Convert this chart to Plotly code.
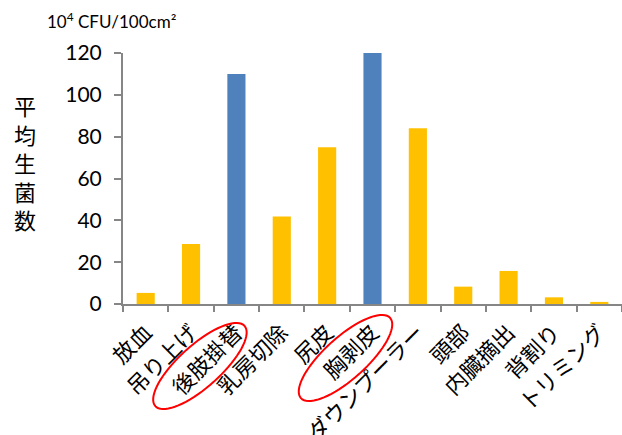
import numpy as np
import plotly.graph_objects as go

# Processing steps along the carcass line
categories = ["放血", "吊り上げ", "後肢掛替", "乳房切除", "尻皮", "胸剥皮",
              "ダウンプーラー", "頭部", "内臓摘出", "背割り", "トリミング"]
# Mean viable count (10^4 CFU/100cm²)
counts = [5.3, 28.7, 110, 41.8, 75, 120, 84, 8.3, 15.8, 3.2, 1.0]
# Steps highlighted in blue and circled
highlighted = ["後肢掛替", "胸剥皮"]

y_ticks = [0, 20, 40, 60, 80, 100, 120]
y_title = "平均生菌数"
unit_label = "10<sup>4</sup> CFU/100cm²"

ORANGE = "#FFC000"
BLUE = "#4F81BD"
AXIS_GRAY = "#868686"
JP_FONT = "Noto Sans CJK JP"

bar_colors = [BLUE if c in highlighted else ORANGE for c in categories]

fig = go.Figure(go.Bar(
    x=categories,
    y=counts,
    marker=dict(color=bar_colors, line=dict(width=0)),
    width=0.4,
))

fig.update_layout(
    width=622,
    height=435,
    margin=dict(l=123, r=0, t=53, b=131),
    paper_bgcolor="white",
    plot_bgcolor="white",
    showlegend=False,
)

fig.update_xaxes(
    type="category",
    tickson="boundaries",
    ticks="outside",
    ticklen=6,
    tickwidth=2,
    tickcolor=AXIS_GRAY,
    showline=True,
    linecolor=AXIS_GRAY,
    linewidth=2,
    showgrid=False,
    tickangle=-45,
    ticklabelstandoff=5,
    tickfont=dict(family=JP_FONT, size=22, color="black"),
    automargin=False,
)

fig.update_yaxes(
    range=[0, 120],
    tickvals=y_ticks,
    ticks="outside",
    ticklen=7,
    tickwidth=2,
    tickcolor=AXIS_GRAY,
    showline=True,
    linecolor=AXIS_GRAY,
    linewidth=2,
    showgrid=False,
    zeroline=False,
    ticklabelstandoff=8,
    tickfont=dict(family="Lato", size=21, color="black"),
    automargin=False,
)

# Vertical axis title, one character per line
fig.add_annotation(
    text="<br>".join(y_title), xref="paper", yref="paper", x=0, y=0.564,
    xanchor="center", yanchor="middle", xshift=-98,
    showarrow=False,
    font=dict(family=JP_FONT, size=22, color="black"),
)

# Unit above the value axis
fig.add_annotation(
    text=unit_label, xref="paper", yref="paper", x=0, y=1.131,
    xanchor="left", yanchor="middle", xshift=-78, showarrow=False,
    font=dict(family="Lato", size=17, color="black"),
)

# Red rings drawn round the highlighted step labels (paper-anchored so they
# are not clipped to the plotting area)
ring_offsets = {"後肢掛替": (-36.5, -62), "胸剥皮": (-27, -54)}
a, b, ang = 60, 21, np.deg2rad(42)
t = np.linspace(0, 2 * np.pi, 73)
n_cat = len(categories)
for name, (dx, dy) in ring_offsets.items():
    px = dx + a * np.cos(t) * np.cos(ang) - b * np.sin(t) * np.sin(ang)
    py = dy + a * np.cos(t) * np.sin(ang) + b * np.sin(t) * np.cos(ang)
    path = "M " + " L ".join(f"{x:.2f},{y:.2f}" for x, y in zip(px, py)) + " Z"
    fig.add_shape(
        type="path", path=path,
        xref="paper", yref="paper",
        xsizemode="pixel", ysizemode="pixel",
        xanchor=(categories.index(name) + 0.5) / n_cat, yanchor=0,
        line=dict(color="#FF0000", width=2),
        layer="above",
    )

fig.write_html("out.html")
